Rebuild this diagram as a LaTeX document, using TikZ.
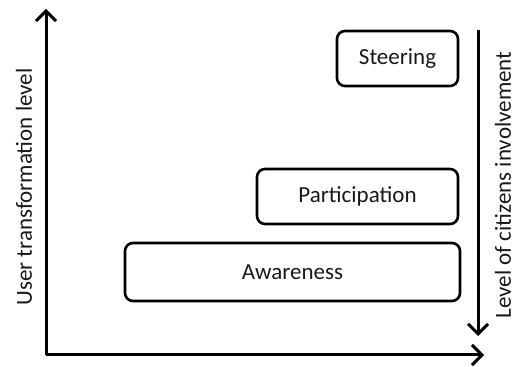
\documentclass[tikz,border=0pt]{standalone}
\usepackage{fontspec}
\setmainfont{Carlito}
\usetikzlibrary{arrows.meta}

\begin{document}
\begin{tikzpicture}[x=0.5pt,y=0.5pt,every text node part/.style={align=center},
  stage/.style={draw,line width=1.3pt,rounded corners=4pt,inner sep=0pt,minimum height=27.5pt},
  axis/.style={line width=1.5pt,-{Straight Barb[length=5pt,width=10pt,line width=1.5pt]}},
  lbl/.style={font=\fontsize{11.5}{13}\selectfont,text=black!90}]
  \useasboundingbox (0,0) rectangle (517,367);

  % axes
  \coordinate (o) at (46,12);
  \coordinate (ytop) at (46,358);
  \coordinate (xend) at (484,12);
  \draw[axis] (o) -- (ytop);
  \draw[axis] (o) -- (xend);

  % involvement arrow
  \coordinate (invtop) at (478,337);
  \coordinate (invbot) at (478,31);
  \draw[axis] (invtop) -- (invbot);

  % stages
  \node[stage,lbl,minimum width=60.5pt] (steer) at (397.5,308.5) {Steering};
  \node[stage,lbl,minimum width=100.5pt] (part) at (357.5,170.5) {Participation};
  \node[stage,lbl,minimum width=167.5pt,minimum height=29pt] (aware) at (292.5,95) {Awareness};

  % axis labels
  \node[lbl,rotate=90,inner sep=1pt] (ylab) at (24,180) {User transformation level};
  \node[lbl,rotate=90,inner sep=1pt] (invlab) at (503,182) {Level of citizens involvement};
\end{tikzpicture}
\end{document}
